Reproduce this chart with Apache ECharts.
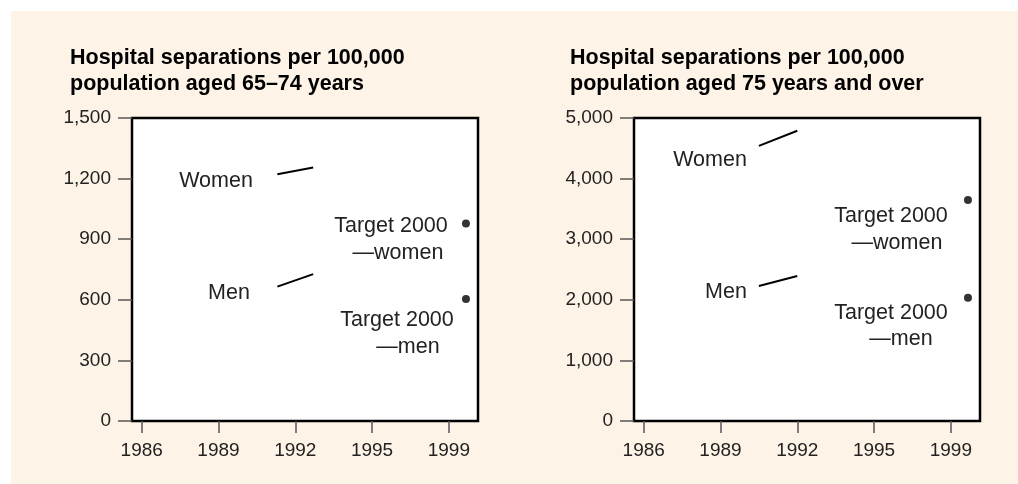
<!DOCTYPE html>
<html>
<head>
<meta charset="utf-8">
<script src="https://cdn.jsdelivr.net/npm/echarts@6/dist/echarts.min.js"></script>
<style>
  html, body { margin: 0; padding: 0; background: #fff; }
  #chart { width: 1018px; height: 484px; }
</style>
</head>
<body>
<div id="chart"></div>
<script>
// x positions of the axis ticks and the labels printed under them
var tickPos = [1986, 1989, 1992, 1995, 1998]
var tickLabels = ['1986', '1989', '1992', '1995', '1999']

// aged 65-74
var lineYears65 = [1991.3, 1992.7]
var women65 = [1222, 1255]
var men65 = [665, 727]
// aged 75 and over
var lineYears75 = [1990.5, 1992.0]
var women75 = [4540, 4790]
var men75 = [2228, 2393]

// Target 2000 points (women, men)
var targetYear = 1998.67
var target65 = [978, 604]
var target75 = [3647, 2035]

var font = 'Liberation Sans, Arial, Helvetica, sans-serif'
var textColor = '#222'

function pairs (xs, ys) {
  return xs.map(function (x, i) { return [x, ys[i]] })
}

function xAxisFor (gridIndex) {
  return {
    gridIndex: gridIndex,
    type: 'value',
    min: 1985.62,
    max: 1999.14,
    splitLine: { show: false },
    axisLine: { show: false },
    axisTick: { show: true, length: 12, customValues: tickPos, lineStyle: { color: '#555', width: 1.5 } },
    axisLabel: {
      customValues: tickPos,
      margin: 20,
      color: textColor,
      fontSize: 19,
      fontFamily: font,
      formatter: function (v) {
        var i = tickPos.indexOf(v)
        return i >= 0 ? tickLabels[i] : ''
      }
    }
  }
}

function yAxisFor (gridIndex, max, interval) {
  return {
    gridIndex: gridIndex,
    type: 'value',
    min: 0,
    max: max,
    interval: interval,
    splitLine: { show: false },
    axisLine: { show: false },
    axisTick: { show: true, length: 14, lineStyle: { color: '#555', width: 1.5 } },
    axisLabel: {
      margin: 21,
      color: textColor,
      fontSize: 19,
      fontFamily: font,
      formatter: function (v) { return v.toLocaleString('en-US') }
    }
  }
}

function lineSeries (gridIndex, xs, ys) {
  return {
    type: 'line',
    xAxisIndex: gridIndex,
    yAxisIndex: gridIndex,
    data: pairs(xs, ys),
    symbol: 'none',
    lineStyle: { color: '#000', width: 2 },
    silent: true
  }
}

function dotSeries (gridIndex, ys) {
  return {
    type: 'scatter',
    xAxisIndex: gridIndex,
    yAxisIndex: gridIndex,
    data: ys.map(function (y) { return [targetYear, y] }),
    symbolSize: 8,
    itemStyle: { color: '#000' },
    silent: true
  }
}

function label (text, x, y) {
  return {
    type: 'text',
    x: x,
    y: y,
    z: 100,
    silent: true,
    style: {
      text: text,
      fill: textColor,
      font: '21.5px ' + font,
      textAlign: 'center',
      textVerticalAlign: 'middle'
    }
  }
}

var chart = echarts.init(document.getElementById('chart'))
var titleStyle = { color: '#000', fontSize: 21.5, fontWeight: 'bold', fontFamily: font, lineHeight: 26 }
var option = {
  backgroundColor: '#fff',
  animation: false,
  title: [
    {
      text: 'Hospital separations per 100,000\npopulation aged 65–74 years',
      left: 70,
      top: 45,
      padding: 0,
      textStyle: titleStyle
    },
    {
      text: 'Hospital separations per 100,000\npopulation aged 75 years and over',
      left: 570,
      top: 45,
      padding: 0,
      textStyle: titleStyle
    }
  ],
  grid: [
    { left: 132, top: 118, width: 346, height: 303, show: true, backgroundColor: '#fff', borderColor: '#000', borderWidth: 2.5 },
    { left: 634, top: 118, width: 346, height: 303, show: true, backgroundColor: '#fff', borderColor: '#000', borderWidth: 2.5 }
  ],
  xAxis: [xAxisFor(0), xAxisFor(1)],
  yAxis: [yAxisFor(0, 1500, 300), yAxisFor(1, 5000, 1000)],
  series: [
    lineSeries(0, lineYears65, women65),
    lineSeries(0, lineYears65, men65),
    dotSeries(0, target65),
    lineSeries(1, lineYears75, women75),
    lineSeries(1, lineYears75, men75),
    dotSeries(1, target75)
  ],
  graphic: [
    {
      type: 'rect',
      z: -100,
      silent: true,
      shape: { x: 11, y: 11, width: 1007, height: 473 },
      style: { fill: '#fdf3e6' }
    },
    label('Women', 216, 181),
    label('Men', 229, 293),
    label('Target 2000', 391, 226),
    label('—women', 398, 253),
    label('Target 2000', 397, 320),
    label('—men', 408, 347),
    label('Women', 710, 160),
    label('Men', 726, 292),
    label('Target 2000', 891, 216),
    label('—women', 897, 243),
    label('Target 2000', 891, 313),
    label('—men', 901, 339)
  ]
}
chart.setOption(option)
window.addEventListener('resize', function () {
  chart.resize()
})
</script>
</body>
</html>
